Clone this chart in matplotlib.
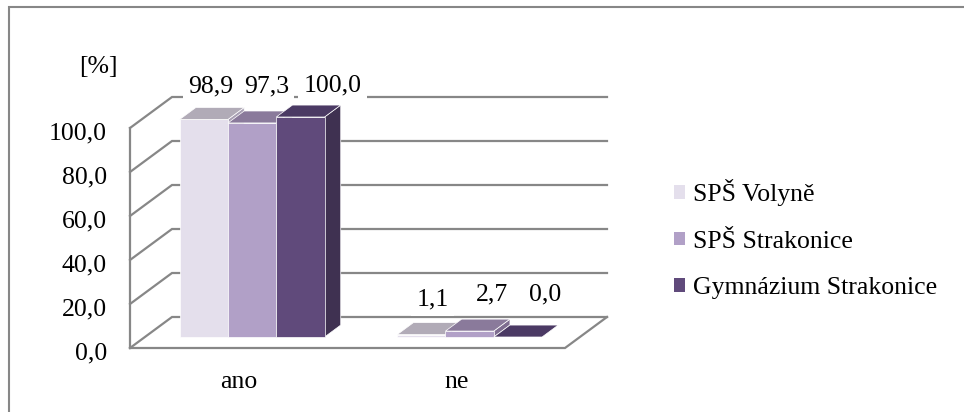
import matplotlib.pyplot as plt
from matplotlib.patches import Polygon, Patch, Rectangle

categories = ['ano', 'ne']
series = ['SPŠ Volyně', 'SPŠ Strakonice', 'Gymnázium Strakonice']
volyne = [98.9, 1.1]
strakonice = [97.3, 2.7]
gymnazium = [100.0, 0.0]
values = [volyne, strakonice, gymnazium]
yticks = [0, 20, 40, 60, 80, 100]

front_colors = ['#E4DFEC', '#B1A0C7', '#604A7B']
top_colors = ['#B1ABB7', '#8A7A9B', '#4B3A64']
side_colors = ['#A89FB3', '#7E6D90', '#3F3151']
grid_color = '#878787'

# label nudges in pixels (dx, dy) for each category / series
label_nudge = [[(-1, 21), (6, 25), (24, 20)],
               [(3, 23), (14, 25), (19, 31)]]

plt.rcParams['font.family'] = ['Liberation Serif', 'DejaVu Serif']
FS = 18.5

W, H = 964, 412
fig = plt.figure(figsize=(W / 100, H / 100), dpi=100)
ax = fig.add_axes([0, 0, 1, 1])

# front plane: category 0 at x=130 px, value 0 at y=348 px
X0, Y0 = 130, 348
PX_CAT, PX_VAL = 217.5, 2.2
ax.set_xlim(-X0 / PX_CAT, (W - X0) / PX_CAT)
ax.set_ylim(-(H - Y0) / PX_VAL, Y0 / PX_VAL)
ax.axis('off')

# oblique depth of the floor
DX = 42 / PX_CAT
DY = 31 / PX_VAL
D0, D1 = 0.355, 0.74
BW = 0.222
START = 0.16
ncat = len(categories)


def sh(x, y, d):
    return (x + DX * d, y + DY * d)


# walls and grid
for v in yticks:
    ax.plot([0, DX, ncat + DX], [v, v + DY, v + DY], color=grid_color,
            lw=1.6, solid_joinstyle='miter', zorder=1)
ax.plot([0, 0], [0, yticks[-1]], color=grid_color, lw=1.6, zorder=1)
ax.plot([0, ncat, ncat + DX], [0, 0, DY], color=grid_color, lw=1.6,
        solid_joinstyle='miter', zorder=1)

for t in yticks:
    ax.annotate(f'{t:.1f}'.replace('.', ','), xy=(0, t), xytext=(-23, -11),
                textcoords='offset pixels', ha='right', va='baseline',
                fontsize=FS)
ax.annotate('[%]', xy=(0, yticks[-1]), xytext=(-32, 55),
            textcoords='offset pixels', ha='center', va='baseline', fontsize=FS)

for i, cat in enumerate(categories):
    ax.annotate(cat, xy=(i + 0.5, 0), xytext=(0, -40), textcoords='offset pixels',
                ha='center', va='baseline', fontsize=FS)

# bars
z = 2
for i in range(ncat):
    for j in range(len(series)):
        v = values[j][i]
        x0 = i + START + j * BW
        x1 = x0 + BW
        front = [sh(x0, 0, D0), sh(x1, 0, D0), sh(x1, v, D0), sh(x0, v, D0)]
        top = [sh(x0, v, D0), sh(x1, v, D0), sh(x1, v, D1), sh(x0, v, D1)]
        side = [sh(x1, 0, D0), sh(x1, 0, D1), sh(x1, v, D1), sh(x1, v, D0)]
        for pts, c in ((side, side_colors[j]), (front, front_colors[j]),
                       (top, top_colors[j])):
            ax.add_patch(Polygon(pts, closed=True, facecolor=c,
                                 edgecolor='white', lw=0.5, zorder=z))
        z += 1

# value labels
for i in range(ncat):
    for j in range(len(series)):
        v = values[j][i]
        cx = i + START + j * BW + BW / 2
        xy = sh(cx, v, (D0 + D1) / 2)
        ax.annotate(f'{v:.1f}'.replace('.', ','), xy=xy, xytext=label_nudge[i][j],
                    textcoords='offset pixels', ha='center', va='baseline',
                    fontsize=FS, zorder=20,
                    bbox=dict(facecolor='white', edgecolor='none', pad=4))

handles = [Patch(facecolor=c, edgecolor='none') for c in front_colors]
fig.legend(handles, series, loc='center left',
           bbox_to_anchor=(674 / W, (H - 239) / H), frameon=False,
           fontsize=FS, handlelength=0.44, handleheight=0.44,
           handletextpad=0.3, labelspacing=0.95, borderpad=0, borderaxespad=0)

# chart area border (top and left edges)
fig.add_artist(Rectangle((8.5 / W, -1), 2, 1 + (H - 7) / H, transform=fig.transFigure,
                         fill=False, edgecolor=grid_color, lw=1.5))

fig.savefig('out.png', dpi=100, facecolor='white')
